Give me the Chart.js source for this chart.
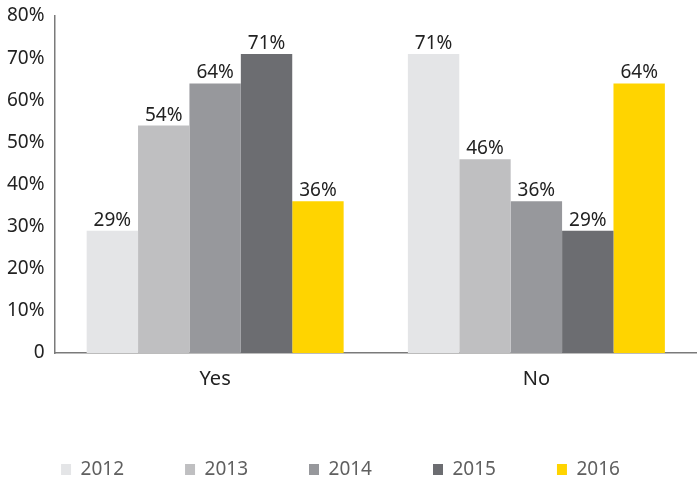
<!DOCTYPE html>
<html>
<head>
<meta charset="utf-8">
<script src="https://cdn.jsdelivr.net/npm/chart.js@4/dist/chart.umd.min.js"></script>
<style>
  html, body { margin: 0; padding: 0; background: #ffffff; }
  #wrap { width: 697px; height: 477px; }
</style>
</head>
<body>
<div id="wrap"><canvas id="surveyChart" width="697" height="477"></canvas></div>
<script>
// survey answers per year, in percent
const categories = ['Yes', 'No'];
const years = ['2012', '2013', '2014', '2015', '2016'];
const values2012 = [29, 71];
const values2013 = [54, 46];
const values2014 = [64, 36];
const values2015 = [71, 29];
const values2016 = [36, 64];
const yTickLabels = ['0', '10%', '20%', '30%', '40%', '50%', '60%', '70%', '80%'];

const yearColors = ['#e4e5e7', '#bfbfc1', '#97989c', '#6c6d71', '#ffd400'];
const seriesValues = [values2012, values2013, values2014, values2015, values2016];

const FONT = '"Noto Sans", "DejaVu Sans", sans-serif';

// percentage above each bar
const valueLabels = {
    id: 'valueLabels',
    afterDatasetsDraw(chart) {
        const ctx = chart.ctx;
        ctx.save();
        ctx.font = '19px ' + FONT;
        ctx.fillStyle = '#222222';
        ctx.textAlign = 'center';
        ctx.textBaseline = 'alphabetic';
        chart.data.datasets.forEach((ds, i) => {
            chart.getDatasetMeta(i).data.forEach((bar, j) => {
                ctx.fillText(ds.data[j] + '%', bar.x, bar.y - 5);
            });
        });
        ctx.restore();
    }
};

// nudge the legend row a little to the left
const legendShift = {
    id: 'legendShift',
    afterLayout(chart) {
        chart.legend.left -= 10;
        chart.legend.right -= 10;
    }
};

const ctx = document.getElementById('surveyChart').getContext('2d');
new Chart(ctx, {
    type: 'bar',
    data: {
        labels: categories,
        datasets: years.map((year, i) => ({
            label: year,
            data: seriesValues[i],
            backgroundColor: yearColors[i],
            borderWidth: 0,
            barPercentage: 1,
            categoryPercentage: 0.8
        }))
    },
    options: {
        responsive: false,
        animation: false,
        layout: {
            padding: { top: 16, left: -3, right: -7, bottom: -12 }
        },
        scales: {
            x: {
                grid: { display: false, drawTicks: false },
                border: { display: true, color: '#7a7a7a', width: 1.5 },
                ticks: {
                    color: '#222222',
                    padding: 14,
                    font: { family: FONT, size: 20 }
                },
                afterFit: (scale) => { scale.height -= 6; }
            },
            y: {
                min: 0,
                max: 80,
                grid: { display: false, drawTicks: false },
                border: { display: true, color: '#7a7a7a', width: 1.5 },
                ticks: {
                    stepSize: 10,
                    color: '#222222',
                    padding: 10,
                    font: { family: FONT, size: 19 },
                    callback: (v, i) => yTickLabels[i]
                },
                afterFit: (scale) => { scale.paddingTop = 0; }
            }
        },
        plugins: {
            legend: {
                position: 'bottom',
                labels: {
                    boxWidth: 10,
                    boxHeight: 11,
                    padding: 61,
                    color: '#606060',
                    font: { family: FONT, size: 19 }
                }
            },
            tooltip: { enabled: false }
        }
    },
    plugins: [valueLabels, legendShift]
});
</script>
</body>
</html>
